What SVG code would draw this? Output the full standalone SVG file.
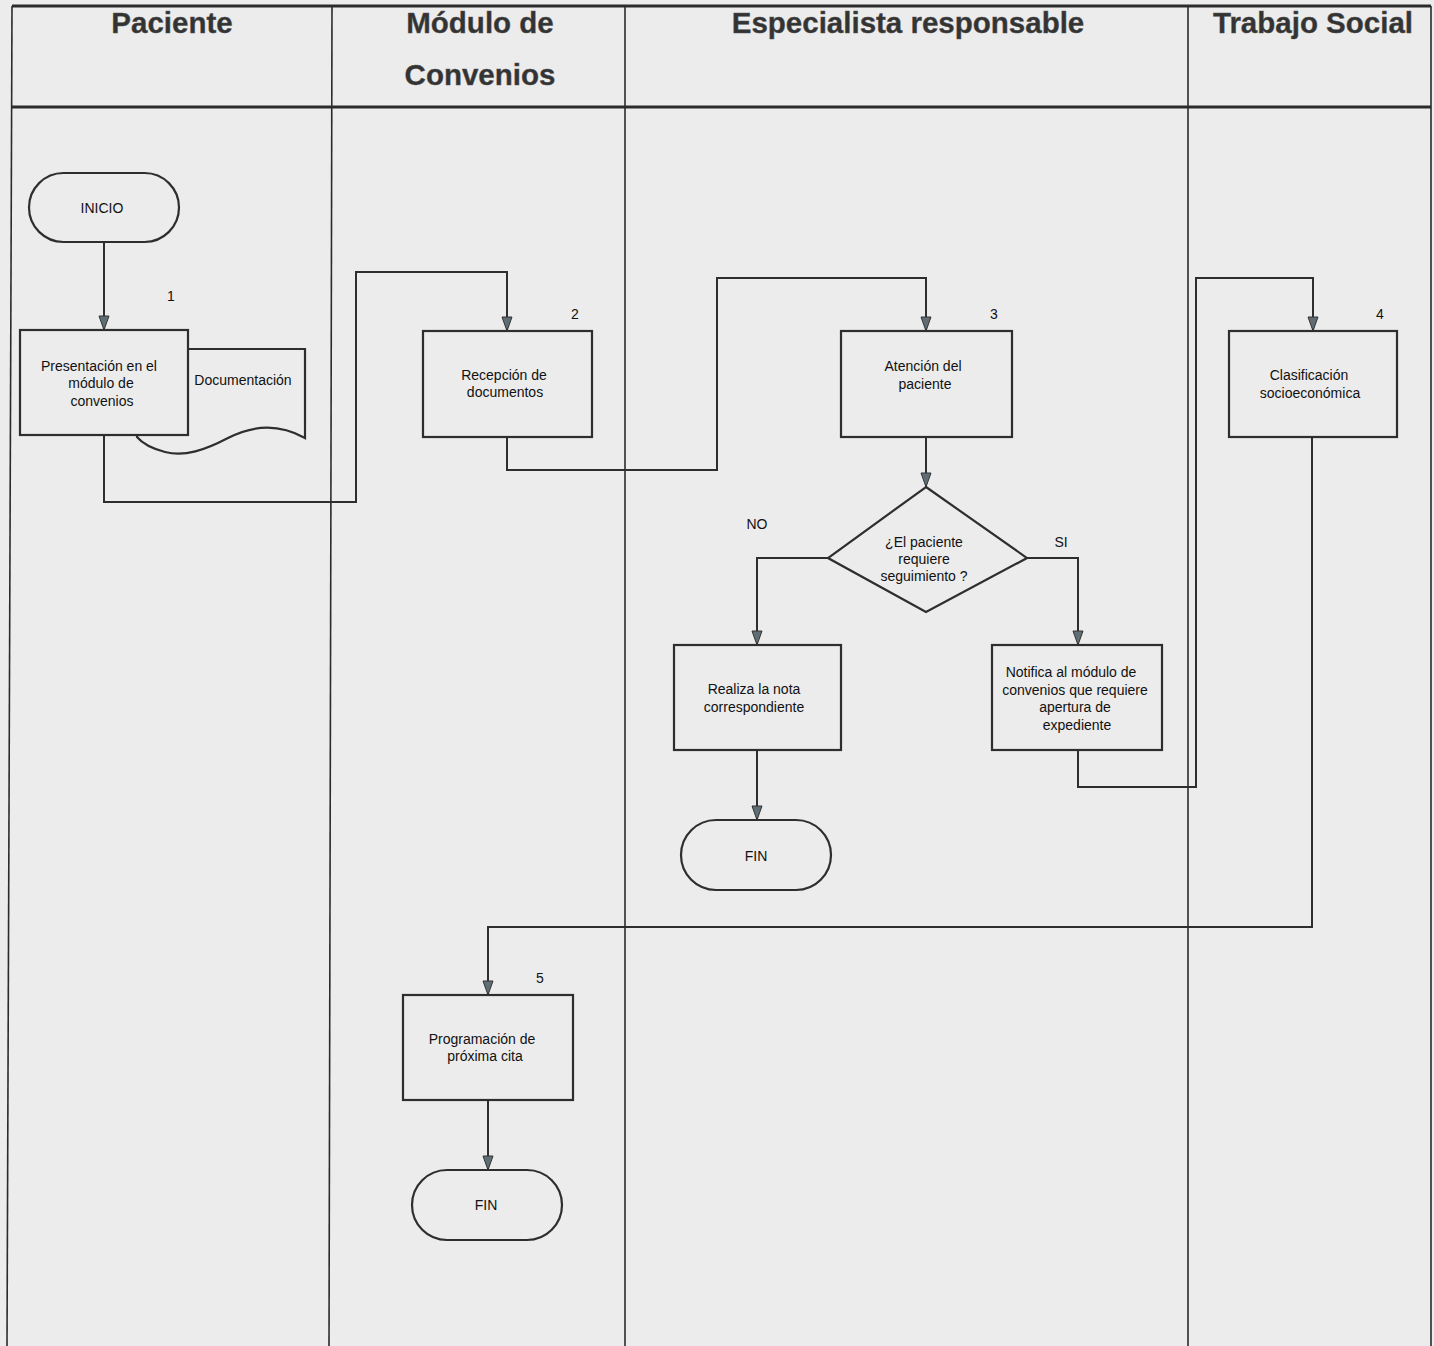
<svg xmlns="http://www.w3.org/2000/svg" width="1434" height="1346" viewBox="0 0 1434 1346">
<defs>
<style>
.lane{stroke:#2b2b2b;stroke-width:1.6;fill:none}
.hdr{stroke:#2b2b2b;stroke-width:3;fill:none}
.ht{font-family:"Liberation Sans",Arial,sans-serif;font-weight:bold;font-size:29.5px;fill:#333;text-anchor:middle;stroke:#555;stroke-width:0.4}
.box{fill:#ececec;stroke:#2e2e2e;stroke-width:2.2}
.t{font-family:"Liberation Sans",Arial,sans-serif;font-size:14px;fill:#111;text-anchor:middle}
.n{font-family:"Liberation Sans",Arial,sans-serif;font-size:14px;fill:#111;text-anchor:middle}
.c{fill:none;stroke:#2e2e2e;stroke-width:2}
</style>
<marker id="ah" markerWidth="16" markerHeight="12" refX="15" refY="6" orient="auto" markerUnits="userSpaceOnUse" viewBox="0 0 16 12">
<path d="M1,1 L15,6 L1,11 Z" fill="#5f6e74" stroke="#333" stroke-width="1"/>
</marker>
</defs>
<rect x="0" y="0" width="1434" height="1346" fill="#ececec"/>
<g id="lanes">
<line class="hdr" x1="12" y1="6" x2="1431" y2="6"/>
<line class="hdr" x1="12" y1="107" x2="1431" y2="107"/>
<line class="lane" x1="12" y1="6" x2="7" y2="1346"/>
<line class="lane" x1="332" y1="6" x2="329" y2="1346"/>
<line class="lane" x1="625" y1="6" x2="625" y2="1346"/>
<line class="lane" x1="1188" y1="6" x2="1188" y2="1346"/>
<line class="lane" x1="1431" y1="6" x2="1431" y2="1346"/>
<text class="ht" x="172" y="33">Paciente</text>
<text class="ht" x="480" y="33">Módulo de</text>
<text class="ht" x="480" y="85">Convenios</text>
<text class="ht" x="908" y="33">Especialista responsable</text>
<text class="ht" x="1313" y="33">Trabajo Social</text>
</g>
<g id="connectors">
<path class="c" d="M104,242 V330" marker-end="url(#ah)"/>
<path class="c" d="M104,435 V502 H356 V272 H507 V331" marker-end="url(#ah)"/>
<path class="c" d="M507,437 V470 H717 V278 H926 V331" marker-end="url(#ah)"/>
<path class="c" d="M926,437 V487" marker-end="url(#ah)"/>
<path class="c" d="M828,558 H757 V645" marker-end="url(#ah)"/>
<path class="c" d="M1027,558 H1078 V645" marker-end="url(#ah)"/>
<path class="c" d="M757,750 V820" marker-end="url(#ah)"/>
<path class="c" d="M1078,750 V787 H1196 V278 H1313 V331" marker-end="url(#ah)"/>
<path class="c" d="M1312,437 V927 H488 V995" marker-end="url(#ah)"/>
<path class="c" d="M488,1100 V1170" marker-end="url(#ah)"/>
<text class="n" x="171" y="301">1</text>
<text class="n" x="575" y="319">2</text>
<text class="n" x="994" y="319">3</text>
<text class="n" x="1380" y="319">4</text>
<text class="n" x="540" y="983">5</text>
<text class="n" x="757" y="529">NO</text>
<text class="n" x="1061" y="547">SI</text>
</g>
<g id="inicio">
<rect class="box" x="29" y="173" width="150" height="69" rx="34.5"/>
<text class="t" x="102" y="213">INICIO</text>
</g>
<g id="documentacion">
<path class="box" d="M137,349 H305 V438 C280,424 255,424 228,438 C205,450 185,457 165,452 C150,448 142,443 137,437 Z"/>
<text class="t" x="243" y="385">Documentación</text>
</g>
<g id="presentacion">
<rect class="box" x="20" y="330" width="168" height="105"/>
<text class="t" x="99" y="371">Presentación en el</text>
<text class="t" x="101" y="388">módulo de</text>
<text class="t" x="102" y="406">convenios</text>
</g>
<g id="recepcion">
<rect class="box" x="423" y="331" width="169" height="106"/>
<text class="t" x="504" y="380">Recepción de</text>
<text class="t" x="505" y="397">documentos</text>
</g>
<g id="atencion">
<rect class="box" x="841" y="331" width="171" height="106"/>
<text class="t" x="923" y="371">Atención del</text>
<text class="t" x="925" y="389">paciente</text>
</g>
<g id="decision">
<polygon class="box" points="926,487 1027,558 926,612 828,558"/>
<text class="t" x="924" y="547">¿El paciente</text>
<text class="t" x="924" y="564">requiere</text>
<text class="t" x="924" y="581">seguimiento ?</text>
</g>
<g id="realiza">
<rect class="box" x="674" y="645" width="167" height="105"/>
<text class="t" x="754" y="694">Realiza la nota</text>
<text class="t" x="754" y="712">correspondiente</text>
</g>
<g id="notifica">
<rect class="box" x="992" y="645" width="170" height="105"/>
<text class="t" x="1071" y="677">Notifica al módulo de</text>
<text class="t" x="1075" y="695">convenios que requiere</text>
<text class="t" x="1075" y="712">apertura de</text>
<text class="t" x="1077" y="730">expediente</text>
</g>
<g id="fin1">
<rect class="box" x="681" y="820" width="150" height="70" rx="35"/>
<text class="t" x="756" y="861">FIN</text>
</g>
<g id="clasificacion">
<rect class="box" x="1229" y="331" width="168" height="106"/>
<text class="t" x="1309" y="380">Clasificación</text>
<text class="t" x="1310" y="398">socioeconómica</text>
</g>
<g id="programacion">
<rect class="box" x="403" y="995" width="170" height="105"/>
<text class="t" x="482" y="1044">Programación de</text>
<text class="t" x="485" y="1061">próxima cita</text>
</g>
<g id="fin2">
<rect class="box" x="412" y="1170" width="150" height="70" rx="35"/>
<text class="t" x="486" y="1210">FIN</text>
</g>
</svg>
